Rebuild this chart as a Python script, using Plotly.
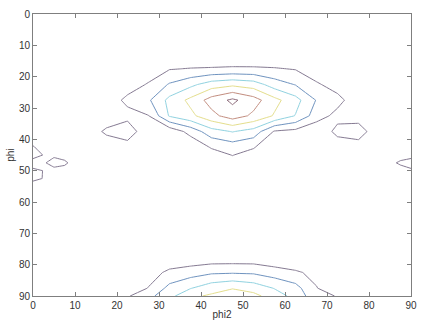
import plotly.graph_objects as go

# Grid of the orientation section (degrees)
phi2 = [0, 2.5, 5, 7.5, 10, 12.5, 17.5, 22.5, 27.5, 32.5, 37.5, 42.5, 47.5,
        52.5, 57.5, 62.5, 67.5, 72.5, 77.5, 82.5, 85, 87.5, 90]
phi = [0, 7.5, 12.5, 17.5, 22.5, 27.5, 32.5, 37.5, 42.5, 45, 47.5, 50, 52.5,
       57.5, 67.5, 77.5, 82.5, 87.5, 90]

# Intensity, one row per phi value
intensity = [
    [0] * 23,
    [0] * 23,
    [0] * 23,
    [0, 0, 0, 0, 0, 0, 0, 0, 0.3, 0.94, 1.05, 1.1, 1.16, 1.15, 1.08, 0.94, 0.3, 0.1, 0, 0, 0, 0, 0],
    [0, 0, 0, 0, 0, 0, 0, 0.42, 1.11, 2.1, 2.75, 3.5, 3.78, 3.51, 2.52, 1.95, 1.15, 0.525, 0.1, 0, 0, 0, 0],
    [0, 0, 0, 0, 0, 0, 0.3, 1.3, 1.86, 3.29, 4.25, 5.42, 6.2, 5.43, 4.3, 3.37, 1.94, 1.35, 0.3, 0, 0, 0, 0],
    [0, 0, 0, 0, 0, 0, 0, 0.6, 0.97, 3.1, 3.75, 4.7, 5.5, 4.8, 3.9, 2.95, 1.5, 0.67, 0.5, 0, 0, 0, 0],
    [0, 0, 0, 0, 0, 0, 1.3, 1.8, 0, 0.3, 1.35, 2.6, 3.05, 2.6, 0.9, 0.7, 0.2, 1.3, 1.55, 0.2, 0, 0, 0],
    [1.1, 0.5, 0.3, 0.2, 0, 0, 0, 0.4, 0, 0, 0.2, 1.1, 1.47, 1.1, 0, 0, 0, 0.4, 0.5, 0, 0, 0.1, 0.2],
    [1.6, 0.95, 0.835, 0.5, 0.2, 0, 0, 0.2, 0, 0, 0.1, 0.55, 1.035, 0.55, 0, 0, 0, 0.2, 0.25, 0, 0.2, 0.5, 0.6],
    [0.3, 0.89, 1.35, 1.25, 0.5, 0, 0, 0, 0, 0, 0, 0, 0.6, 0, 0, 0, 0, 0, 0, 0, 0.7, 1.2, 1.5],
    [1.3, 0.97, 0.725, 0.5, 0.2, 0, 0, 0, 0, 0, 0, 0, 0, 0, 0, 0, 0, 0, 0, 0, 0.2, 0.5, 0.8],
    [1.2, 0.97, 0.4, 0.1, 0, 0, 0, 0, 0, 0, 0, 0, 0, 0, 0, 0, 0, 0, 0, 0, 0, 0, 0],
    [0] * 23,
    [0] * 23,
    [0, 0, 0, 0, 0, 0, 0, 0, 0, 0.1, 0.2, 0.3, 0.3, 0.3, 0.1, 0, 0, 0, 0, 0, 0, 0, 0],
    [0, 0, 0, 0, 0, 0, 0, 0, 0.5, 1.25, 1.55, 1.85, 1.9, 1.85, 1.5, 1.16, 0.7, 0.1, 0, 0, 0, 0, 0],
    [0, 0, 0, 0, 0, 0, 0, 0.2, 1.05, 2.3, 2.95, 3.6, 3.95, 3.6, 2.95, 2.36, 1.05, 0.2, 0, 0, 0, 0, 0],
    [0, 0, 0, 0, 0, 0, 0.2, 0.9, 1.7, 2.7, 3.8, 4.15, 4.5, 4.3, 3.5, 2.67, 1.3, 0.95, 0.3, 0, 0, 0, 0],
]

levels = [1, 2, 3, 4, 5, 6]
level_colors = ["#857a92", "#6f93bf", "#90d2e0", "#e4de8c", "#c28c7e", "#8c6a7a"]

scale = [[i / (len(levels) - 1), c] for i, c in enumerate(level_colors)]

fig = go.Figure(
    go.Contour(
        x=phi2,
        y=phi,
        z=intensity,
        zmin=levels[0],
        zmax=levels[-1],
        autocontour=False,
        contours=dict(start=levels[0], end=levels[-1], size=1,
                      coloring="lines", showlabels=False),
        colorscale=scale,
        line=dict(width=1, smoothing=0),
        showscale=False,
        hoverinfo="skip",
    )
)

axis_style = dict(
    showgrid=False,
    zeroline=False,
    showline=True,
    linecolor="#7f7f7f",
    linewidth=1,
    mirror="ticks",
    ticks="inside",
    ticklen=4,
    tickcolor="#7f7f7f",
    tickfont=dict(family="Liberation Sans, Arial, sans-serif", size=10, color="#333333"),
    tick0=0,
    dtick=10,
)

fig.update_xaxes(range=[0, 90], title=dict(text="phi2", standoff=0,
                 font=dict(family="Liberation Sans, Arial, sans-serif", size=10, color="#333333")),
                 **axis_style)
fig.update_yaxes(range=[90, 0], title=dict(text="phi", standoff=2,
                 font=dict(family="Liberation Sans, Arial, sans-serif", size=10, color="#333333")),
                 **axis_style)

fig.update_layout(
    width=422,
    height=323,
    margin=dict(l=33, r=5, t=14, b=22),
    paper_bgcolor="white",
    plot_bgcolor="white",
    showlegend=False,
)

fig.write_html("out.html")
